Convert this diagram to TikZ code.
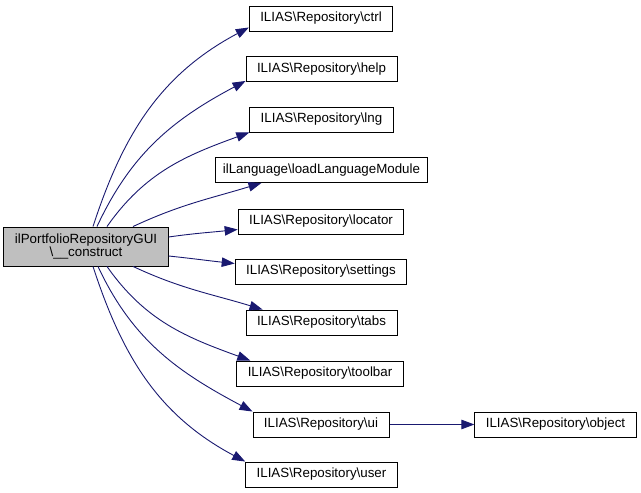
\documentclass[tikz,border=0pt]{standalone}
\usepackage{fontspec}
\setmainfont{Liberation Sans}
\usetikzlibrary{arrows.meta}
\definecolor{edgeblue}{HTML}{191970}
\definecolor{srcgrey}{HTML}{BFBFBF}
\newcommand{\bsl}{\textbackslash}
\begin{document}
\begin{tikzpicture}[x=1pt, y=1pt,
    every node/.style={font=\fontsize{13.33}{13.5}\selectfont},
    fn/.style={shape=rectangle, draw=black, line width=0.9pt, minimum height=25pt, inner xsep=11pt, inner ysep=0pt},
    call/.style={draw=edgeblue, line width=0.9pt, -{Triangle[length=13pt,width=9.5pt]}}]
    \useasboundingbox (0,0) rectangle (641,493);
    \node[fn, fill=srcgrey, align=center, minimum width=162pt, minimum height=39pt] (src) at (86,246.5) {ilPortfolioRepositoryGUI\\\bsl\_\_construct};
    \node[fn] (ctrl) at (321,474.5) {ILIAS\bsl Repository\bsl ctrl};
    \node[fn] (help) at (321.5,424) {ILIAS\bsl Repository\bsl help};
    \node[fn] (lng) at (321.5,373.5) {ILIAS\bsl Repository\bsl lng};
    \node[fn, inner xsep=7pt] (loadlang) at (321.5,323) {ilLanguage\bsl loadLanguageModule};
    \node[fn] (locator) at (321,271.5) {ILIAS\bsl Repository\bsl locator};
    \node[fn] (settings) at (321,221.5) {ILIAS\bsl Repository\bsl settings};
    \node[fn] (tabs) at (321.5,170.5) {ILIAS\bsl Repository\bsl tabs};
    \node[fn] (toolbar) at (320,119.5) {ILIAS\bsl Repository\bsl toolbar};
    \node[fn] (ui) at (321,68.5) {ILIAS\bsl Repository\bsl ui};
    \node[fn] (object) at (555.5,68.5) {ILIAS\bsl Repository\bsl object};
    \node[fn] (user) at (321.5,18.5) {ILIAS\bsl Repository\bsl user};
    % calls above the constructor
    \draw[call] ([xshift=7pt]src.north) to[out=72, in=208] ([yshift=-9pt]ctrl.west);
    \draw[call] ([xshift=11pt]src.north) to[out=65, in=208] ([yshift=1pt]help.south west);
    \draw[call] ([xshift=21pt]src.north) to[out=55, in=200] (lng.south west);
    \draw[call] ([xshift=47pt]src.north) to[out=25, in=197] ([xshift=46pt]loadlang.south west);
    \draw[call] ([yshift=9.5pt]src.east) to[out=8, in=186] ([yshift=-8pt]locator.west);
    \draw[call] ([yshift=-9.5pt]src.east) to[out=-6, in=174] ([yshift=8pt]settings.west);
    % calls below the constructor
    \draw[call] ([xshift=47pt]src.south) to[out=-25, in=163] ([xshift=17pt]tabs.north west);
    \draw[call] ([xshift=21pt]src.south) to[out=-55, in=160] ([xshift=14pt]toolbar.north west);
    \draw[call] ([xshift=12pt]src.south) to[out=-65, in=152] (ui.north west);
    \draw[call] ([xshift=7pt]src.south) to[out=-72, in=152] (user.north west);
    \draw[call] (ui) -- (object);
\end{tikzpicture}
\end{document}
